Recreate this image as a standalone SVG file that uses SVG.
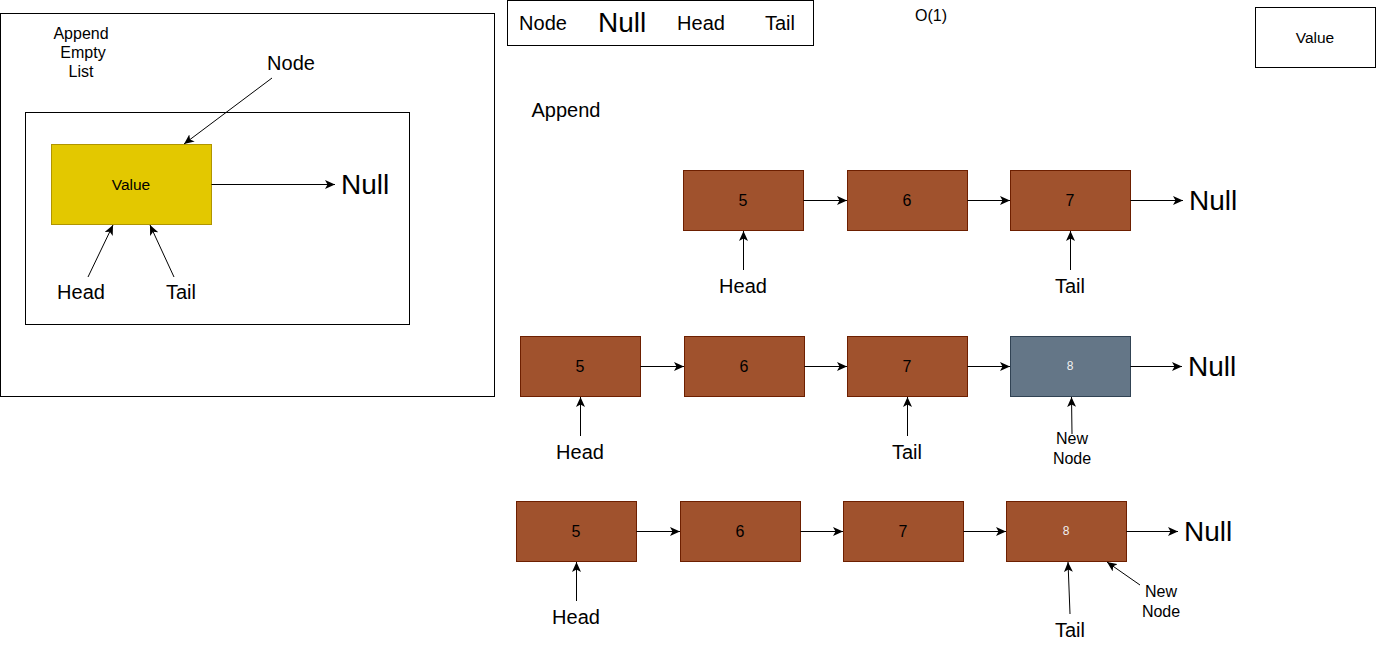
<svg xmlns="http://www.w3.org/2000/svg" width="1376" height="645" viewBox="0 0 1376 645">
<style>
text{font-family:"Liberation Sans",Arial,sans-serif;fill:#000;text-anchor:middle;dominant-baseline:central}
.frame{fill:#fff;stroke:#000;stroke-width:1}
.brown{fill:#a0522d;stroke:#6d1f00;stroke-width:1}
.slate{fill:#647687;stroke:#314354;stroke-width:1}
.yellow{fill:#e3c800;stroke:#b09500;stroke-width:1}
.conn line{stroke:#000;stroke-width:1;fill:none;marker-end:url(#ah)}
.t20{font-size:20px}
.t28{font-size:28px;text-anchor:start}
.t16{font-size:16px}
.t15{font-size:15.5px}
.t8{font-size:12px;fill:#f0f0f0}
</style>
<defs>
<marker id="ah" markerUnits="userSpaceOnUse" viewBox="0 0 10 9" refX="10" refY="4.5" markerWidth="10" markerHeight="9" orient="auto">
<path d="M0,0 L10,4.5 L0,9 L2.5,4.5 z" fill="#000"/>
</marker>
</defs>
<rect width="1376" height="645" fill="#fff"/>

<g id="empty-list-frame">
<rect class="frame" x="0.5" y="13.5" width="494" height="383"/>
<text class="t16" x="81" y="33">Append</text>
<text class="t16" x="83" y="52">Empty</text>
<text class="t16" x="81" y="71">List</text>
</g>
<g id="empty-list-inner">
<rect class="frame" x="25.5" y="112.5" width="384" height="212"/>
</g>
<g id="yellow-node">
<rect class="yellow" x="51.5" y="144.5" width="160" height="80"/>
<text class="t15" x="131" y="184">Value</text>
</g>
<g id="label-node"><text class="t20" x="291" y="63">Node</text></g>
<g id="label-null-0"><text class="t28" x="341" y="184">Null</text></g>
<g id="label-head-0"><text class="t20" x="81" y="292">Head</text></g>
<g id="label-tail-0"><text class="t20" x="181" y="292">Tail</text></g>

<g id="legend">
<rect class="frame" x="507.5" y="0.5" width="306" height="45"/>
<text class="t20" x="543" y="23">Node</text>
<text class="t28" x="598" y="22">Null</text>
<text class="t20" x="701" y="23">Head</text>
<text class="t20" x="780" y="23">Tail</text>
</g>
<g id="complexity"><text class="t16" x="931" y="15">O(1)</text></g>
<g id="value-box">
<rect class="frame" x="1255.5" y="7.5" width="120" height="60"/>
<text class="t15" x="1315" y="37">Value</text>
</g>
<g id="append-title"><text class="t20" x="566" y="110">Append</text></g>

<g id="r1n5"><rect class="brown" x="683.5" y="170.5" width="120" height="60"/><text class="t16" x="743" y="200">5</text></g>
<g id="r1n6"><rect class="brown" x="847.5" y="170.5" width="120" height="60"/><text class="t16" x="907" y="200">6</text></g>
<g id="r1n7"><rect class="brown" x="1010.5" y="170.5" width="120" height="60"/><text class="t16" x="1070" y="200">7</text></g>
<g id="r1null"><text class="t28" x="1189" y="200">Null</text></g>
<g id="r1head"><text class="t20" x="743" y="286">Head</text></g>
<g id="r1tail"><text class="t20" x="1070" y="286">Tail</text></g>

<g id="r2n5"><rect class="brown" x="520.5" y="336.5" width="120" height="60"/><text class="t16" x="580" y="366">5</text></g>
<g id="r2n6"><rect class="brown" x="684.5" y="336.5" width="120" height="60"/><text class="t16" x="744" y="366">6</text></g>
<g id="r2n7"><rect class="brown" x="847.5" y="336.5" width="120" height="60"/><text class="t16" x="907" y="366">7</text></g>
<g id="r2n8"><rect class="slate" x="1010.5" y="336.5" width="120" height="60"/><text class="t8" x="1070" y="366">8</text></g>
<g id="r2null"><text class="t28" x="1188" y="366">Null</text></g>
<g id="r2head"><text class="t20" x="580" y="452">Head</text></g>
<g id="r2tail"><text class="t20" x="907" y="452">Tail</text></g>
<g id="r2new"><text class="t16" x="1072" y="438">New</text><text class="t16" x="1072" y="458">Node</text></g>

<g id="r3n5"><rect class="brown" x="516.5" y="501.5" width="120" height="60"/><text class="t16" x="576" y="531">5</text></g>
<g id="r3n6"><rect class="brown" x="680.5" y="501.5" width="120" height="60"/><text class="t16" x="740" y="531">6</text></g>
<g id="r3n7"><rect class="brown" x="843.5" y="501.5" width="120" height="60"/><text class="t16" x="903" y="531">7</text></g>
<g id="r3n8"><rect class="brown" x="1006.5" y="501.5" width="120" height="60"/><text class="t8" x="1066" y="531">8</text></g>
<g id="r3null"><text class="t28" x="1184" y="531">Null</text></g>
<g id="r3head"><text class="t20" x="576" y="617">Head</text></g>
<g id="r3tail"><text class="t20" x="1070" y="630">Tail</text></g>
<g id="r3new"><text class="t16" x="1161" y="591">New</text><text class="t16" x="1161" y="611">Node</text></g>

<g id="connectors" class="conn">
<line x1="272" y1="78" x2="184" y2="144"/>
<line x1="211.5" y1="184.5" x2="335" y2="184.5"/>
<line x1="88" y1="277" x2="113" y2="225"/>
<line x1="174" y1="277" x2="150" y2="225"/>

<line x1="803.5" y1="200.5" x2="847" y2="200.5"/>
<line x1="967.5" y1="200.5" x2="1010" y2="200.5"/>
<line x1="1130.5" y1="200.5" x2="1183" y2="200.5"/>
<line x1="743.5" y1="270" x2="743.5" y2="231"/>
<line x1="1070.5" y1="270" x2="1070.5" y2="231"/>

<line x1="640.5" y1="366.5" x2="684" y2="366.5"/>
<line x1="804.5" y1="366.5" x2="847" y2="366.5"/>
<line x1="967.5" y1="366.5" x2="1010" y2="366.5"/>
<line x1="1130.5" y1="366.5" x2="1182" y2="366.5"/>
<line x1="580.5" y1="436" x2="580.5" y2="397"/>
<line x1="907.5" y1="436" x2="907.5" y2="397"/>
<line x1="1072" y1="434" x2="1071.5" y2="397"/>

<line x1="636.5" y1="531.5" x2="680" y2="531.5"/>
<line x1="800.5" y1="531.5" x2="843" y2="531.5"/>
<line x1="963.5" y1="531.5" x2="1006" y2="531.5"/>
<line x1="1126.5" y1="531.5" x2="1178" y2="531.5"/>
<line x1="576.5" y1="601" x2="576.5" y2="562"/>
<line x1="1070" y1="614" x2="1068" y2="562"/>
<line x1="1140" y1="585" x2="1107" y2="562"/>
</g>
</svg>
